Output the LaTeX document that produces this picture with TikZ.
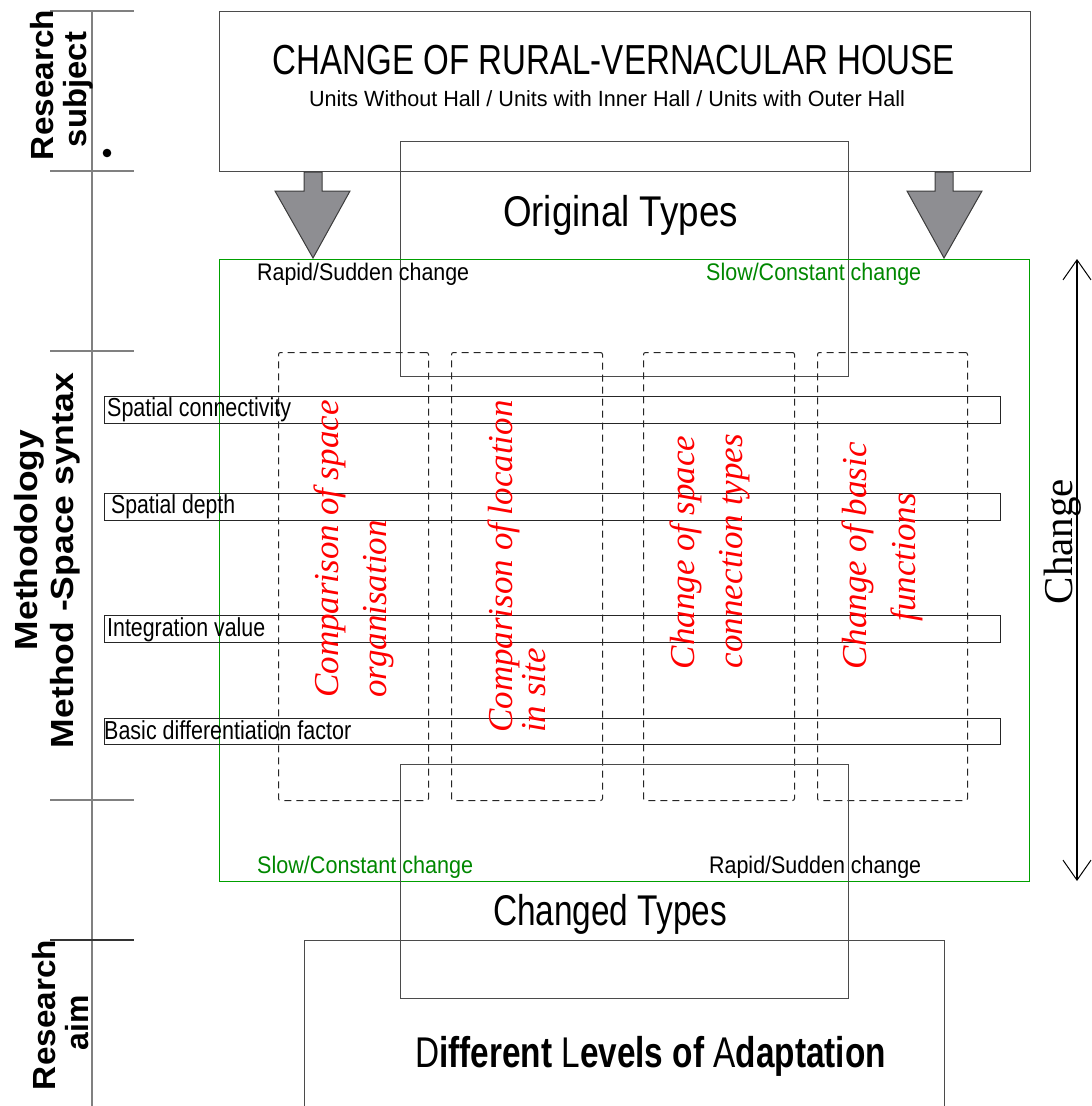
\documentclass[tikz,border=0pt]{standalone}
\usepackage{fontspec}
\setmainfont{Liberation Sans}
\newfontfamily\seriffont{Liberation Serif}
\usepackage{graphicx}
\usetikzlibrary{arrows.meta}
\definecolor{boxgray}{RGB}{75,75,75}
\definecolor{structgray}{RGB}{128,128,128}
\definecolor{arrowfill}{RGB}{142,142,146}
\definecolor{arrowline}{RGB}{60,60,60}
\definecolor{boxgreen}{RGB}{0,160,0}
\definecolor{txtgreen}{RGB}{0,135,0}
\newcommand\fitw[2]{\resizebox{#1}{\height}{#2}}
\newcommand\fsz[1]{\fontsize{#1}{#1}\selectfont}
\begin{document}
\begin{tikzpicture}[x=1pt,y=-1pt,
  box/.style={draw=boxgray, line width=1.2pt, inner sep=0pt, anchor=north west},
  greenbox/.style={inner sep=0pt, outer sep=0pt, anchor=north west},
  greenline/.style={draw=boxgreen, line width=1.3pt},
  barbox/.style={draw=black!85, line width=1pt, inner sep=0pt, anchor=north west, minimum width=896pt},
  dashbox/.style={draw=black!85, line width=1pt, dash pattern=on 7pt off 5pt, rounded corners=2pt, inner sep=0pt, anchor=north west, minimum height=448pt},
  struct/.style={draw=structgray, line width=1.5pt},
  txt/.style={inner sep=0pt, anchor=base},
  lbl/.style={inner sep=0pt, anchor=base, rotate=90, font=\bfseries\fsz{32}},
  redtxt/.style={inner sep=0pt, rotate=90, text=red, font=\seriffont\itshape\fsz{35}},
  bigarrow/.style={fill=arrowfill, draw=arrowline, line width=1pt, line join=miter},
]
\useasboundingbox (0,0) rectangle (1092,1106);

% left structure
\draw[struct] (92,11) -- (92,1106);
\foreach \yy in {11,171,351,800} \draw[struct] (50,\yy) -- (134,\yy);
\draw[draw=black!80, line width=1.3pt] (50,940) -- (134,940);
\fill (107,153) circle (4.3pt);

\node[lbl] (rs1) at (53,85) {\fitw{150pt}{Research}};
\node[lbl] (rs2) at (86,89.5) {\fitw{115pt}{subject}};
\node[lbl] (me1) at (37,540) {\fitw{220pt}{Methodology}};
\node[lbl] (me2) at (73,560.5) {\fitw{375pt}{Method -Space syntax}};
\node[lbl] (ra1) at (55,1015) {\fitw{150pt}{Research}};
\node[lbl] (ra2) at (88,1022.5) {\fitw{55pt}{aim}};

% top box
\node[box, minimum width=811pt, minimum height=160pt] (top) at (219,11) {};
\node[txt] (title) at (614,74) {\fsz{42}\fitw{682pt}{CHANGE OF RURAL-VERNACULAR HOUSE}};
\node[txt] (sub) at (607,106) {\fsz{22}\fitw{596pt}{Units Without Hall / Units with Inner Hall / Units with Outer Hall}};

% original types
\node[box, minimum width=448pt, minimum height=235pt] (orig) at (400,141) {};
\node[txt] (origt) at (620.5,226) {\fsz{43}\fitw{235pt}{Original Types}};

% green change box
\node[greenbox, minimum width=810pt, minimum height=622pt] (chbox) at (219.5,259.5) {};
\draw[greenline] (chbox.north west) rectangle (chbox.south east);

% big gray arrows
\filldraw[bigarrow] (304,172) -- (322,172) -- (322,191) -- (350,191) -- (313,258) -- (275,191) -- (304,191) -- cycle;
\filldraw[bigarrow] (935,172) -- (953,172) -- (953,191) -- (982,191) -- (944,258) -- (907,191) -- (935,191) -- cycle;

% change labels
\node[txt, anchor=base west] (rap1) at (257,280) {\fsz{24}\fitw{212pt}{Rapid/Sudden change}};
\node[txt, anchor=base west, text=txtgreen] (slo1) at (706,280) {\fsz{24}\fitw{215pt}{Slow/Constant change}};
\node[txt, anchor=base west, text=txtgreen] (slo2) at (257,873) {\fsz{24}\fitw{216pt}{Slow/Constant change}};
\node[txt, anchor=base west] (rap2) at (709,873) {\fsz{24}\fitw{212pt}{Rapid/Sudden change}};

% dashed columns
\node[dashbox, minimum width=150pt] (c1) at (278,352) {};
\node[dashbox, minimum width=151pt] (c2) at (451,352) {};
\node[dashbox, minimum width=151pt] (c3) at (643,352) {};
\node[dashbox, minimum width=150pt] (c4) at (817,352) {};

% bars
\node[barbox, minimum height=27pt] (b1) at (104,396) {};
\node[barbox, minimum height=27pt] (b2) at (104,493) {};
\node[barbox, minimum height=27pt] (b3) at (104,615) {};
\node[barbox, minimum height=26pt] (b4) at (104,718) {};
\node[txt, anchor=base west] (b1t) at (107,416) {\fsz{26}\fitw{184pt}{Spatial connectivity}};
\node[txt, anchor=base west] (b2t) at (111,513) {\fsz{26}\fitw{124pt}{Spatial depth}};
\node[txt, anchor=base west] (b3t) at (107,636) {\fsz{26}\fitw{158pt}{Integration value}};
\node[txt, anchor=base west] (b4t) at (104,739) {\fsz{26}\fitw{247pt}{Basic differentiation factor}};

% red rotated texts
\node[redtxt, anchor=base west] (r1a) at (338,698) {Comparison of space};
\node[redtxt, anchor=base west] (r1b) at (386,698) {organisation};
\node[redtxt, anchor=base west] (r2a) at (512,733) {Comparison of location};
\node[redtxt, anchor=base west] (r2b) at (545,733) {in site};
\node[redtxt, anchor=base] (r3a) at (694,552.5) {Change of space};
\node[redtxt, anchor=base] (r3b) at (742,551) {connection types};
\node[redtxt, anchor=base] (r4a) at (866,556) {Change of basic};
\node[redtxt, anchor=base] (r4b) at (915,557.5) {functions};

% changed types
\node[box, minimum width=448pt, minimum height=234pt] (chg) at (400,764) {};
\node[txt] (chgt) at (610,925) {\fsz{43}\fitw{234pt}{Changed Types}};

% aim box (open at bottom)
\node[box, minimum width=640pt, minimum height=190pt] (aim) at (304,940) {};
\node[txt] (aimt) at (650.5,1067) {\fsz{43}\fitw{471pt}{D\textbf{ifferent }L\textbf{evels of }A\textbf{daptation}}};

% change double arrow
\coordinate (ctop) at (1077,259);
\coordinate (cbot) at (1077,881);
\draw[line width=2pt, {Straight Barb[length=20pt,width=28pt,line width=1pt]}-{Straight Barb[length=20pt,width=28pt,line width=1pt]}] (ctop) -- (cbot);
\node[inner sep=0pt, anchor=base, rotate=90, font=\seriffont\fsz{41}] (chl) at (1072,541.5) {Change};
\end{tikzpicture}
\end{document}
